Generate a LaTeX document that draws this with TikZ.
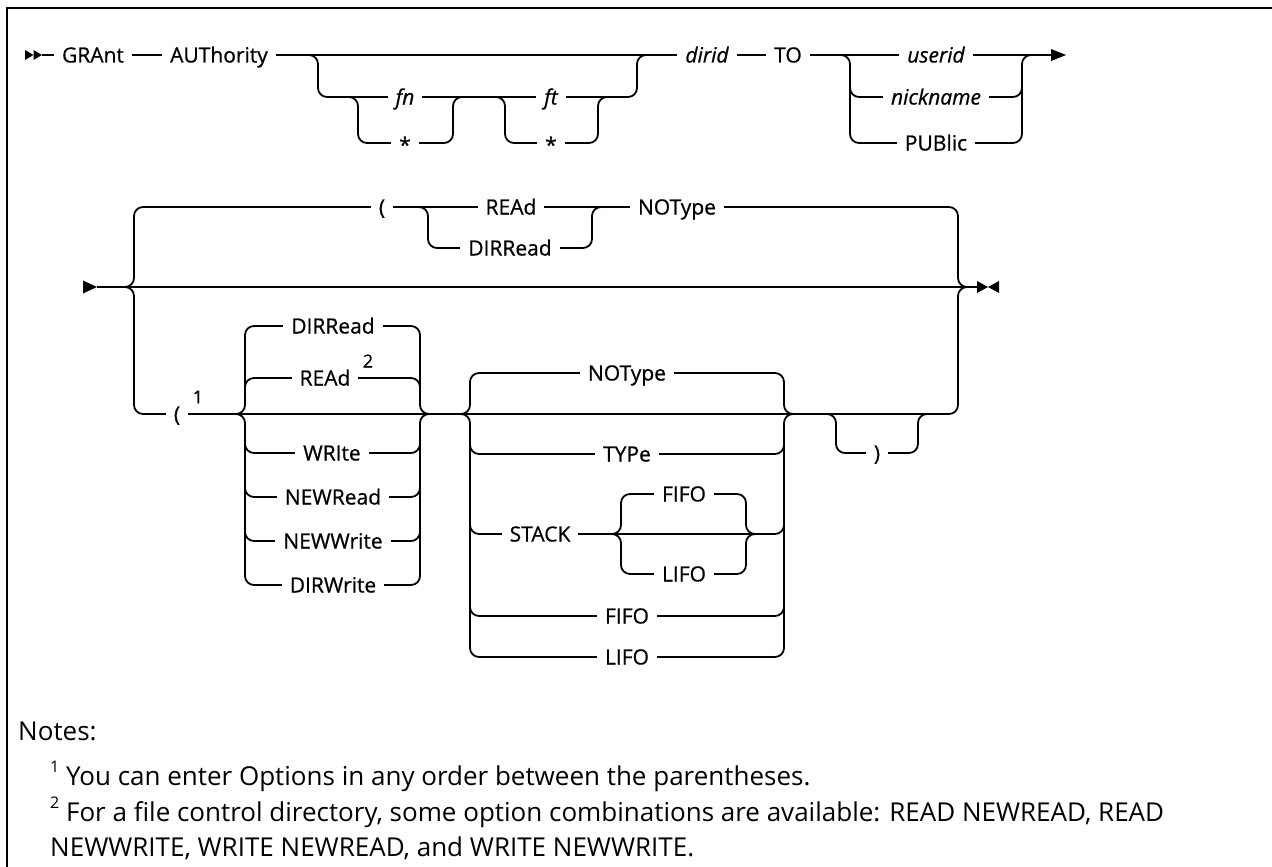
\documentclass[tikz,border=0pt]{standalone}
\usepackage{fontspec}
\setmainfont{Open Sans}
\newfontfamily\diagfont[FakeBold=0.7]{Open Sans}
\begin{document}
\begin{tikzpicture}[x=1pt,y=-1pt,
  track/.style={line width=1.8pt, rounded corners=9pt},
  lbl/.style={fill=white, inner xsep=8pt, inner ysep=1pt, text height=15pt, text depth=0pt, font=\fontsize{21}{24}\diagfont},
  ilbl/.style={lbl, font=\fontsize{21}{24}\diagfont\itshape},
  suplbl/.style={inner sep=0pt, font=\fontsize{18}{18}\diagfont},
  note/.style={inner sep=0pt, anchor=base west, font=\fontsize{26}{30}\selectfont},
  tipmark/.style={fill=black}
]
\useasboundingbox (0,0) rectangle (1272,867);
\draw[line width=2.2pt] (7,867) -- (7,8) -- (1272,8);

% ---------------- row 1 ----------------
\coordinate (r1s) at (42,55);
\coordinate (r1e) at (1052,55);
\fill[tipmark] (25,50) -- (33.5,55) -- (25,60) -- cycle;
\fill[tipmark] (33.5,50) -- (42,55) -- (33.5,60) -- cycle;
\draw[track] (r1s) -- (r1e);
\fill[tipmark] (1051,49) -- (1066,55) -- (1051,61) -- cycle;
% fn ft branch
\draw[track] (308,55) -- (318,55) -- (318,97) -- (637,97) -- (637,55) -- (647,55);
\draw[track] (348,97) -- (358,97) -- (358,143) -- (453,143) -- (453,97) -- (463,97);
\draw[track] (495,97) -- (505,97) -- (505,143) -- (598,143) -- (598,97) -- (608,97);
% userid branch
\draw[track] (840,55) -- (850,55) -- (850,97) -- (1022,97) -- (1022,55) -- (1032,55);
\draw[track] (850,88) -- (850,143) -- (1022,143) -- (1022,88);

\node[lbl] (grant) at (93,55) {GRAnt};
\node[lbl] (auth) at (219,55) {AUThority};
\node[ilbl] (fn) at (405,97) {fn};
\node[lbl] (fnstar) at (405,145) {*};
\node[ilbl] (ft) at (551,97) {ft};
\node[lbl] (ftstar) at (551,145) {*};
\node[ilbl] (dirid) at (707,55) {dirid};
\node[lbl] (to) at (788,55) {TO};
\node[ilbl] (userid) at (936,55) {userid};
\node[ilbl] (nick) at (936,97) {nickname};
\node[lbl] (public) at (936,143) {PUBlic};

% ---------------- row 2 ----------------
\fill[tipmark] (83,280.5) -- (97,287) -- (83,293.5) -- cycle;
\coordinate (r2s) at (97,287);
\coordinate (r2e) at (977,287);
\draw[track] (r2s) -- (r2e);
\fill[tipmark] (977,281) -- (988,287) -- (977,293) -- cycle;
\fill[tipmark] (999,281) -- (988,287) -- (999,293) -- cycle;
% top alternative
\draw[track] (124,287) -- (134,287) -- (134,207) -- (958,207) -- (958,287) -- (968,287);
\draw[track] (418,207) -- (428,207) -- (428,248) -- (592,248) -- (592,207) -- (602,207);
% bottom alternative
\draw[track] (124,287) -- (134,287) -- (134,414) -- (958,414) -- (958,287) -- (968,287);
% group 1
\draw[track] (235,414) -- (245,414) -- (245,326) -- (420,326) -- (420,414) -- (430,414);
\draw[track] (245,392) -- (245,378) -- (420,378) -- (420,392);
\draw[track] (235,414) -- (245,414) -- (245,585) -- (420,585) -- (420,414) -- (430,414);
\foreach \yy in {453,497,541} {\draw[track] (245,\yy-16) -- (245,\yy) -- (420,\yy) -- (420,\yy-16);}
% group 2
\draw[track] (460,414) -- (470,414) -- (470,373) -- (784,373) -- (784,414) -- (794,414);
\draw[track] (460,414) -- (470,414) -- (470,657) -- (784,657) -- (784,414) -- (794,414);
\foreach \yy in {454,534,616} {\draw[track] (470,\yy-16) -- (470,\yy) -- (784,\yy) -- (784,\yy-16);}
% stack sub-group
\draw[track] (611,534) -- (621,534) -- (621,494) -- (746,494) -- (746,534) -- (756,534);
\draw[track] (611,534) -- (621,534) -- (621,574) -- (746,574) -- (746,534) -- (756,534);
% paren group
\draw[track] (826,414) -- (836,414) -- (836,453) -- (918,453) -- (918,414) -- (928,414);

\node[lbl] (lp1) at (382,207) {(};
\node[lbl] (read1) at (511,207) {REAd};
\node[lbl] (dirread1) at (510,248) {DIRRead};
\node[lbl] (notype1) at (677,207) {NOType};

\node[lbl] (lp2) at (177,414) {(};
\node[suplbl] (sup1) at (198,397) {1};
\node[lbl] (dirread2) at (333,326) {DIRRead};
\node[lbl] (read2) at (325,378) {REAd};
\node[suplbl] (sup2) at (368,361) {2};
\node[lbl] (write) at (332,453) {WRIte};
\node[lbl] (newread) at (333,497) {NEWRead};
\node[lbl] (newwrite) at (333,541) {NEWWrite};
\node[lbl] (dirwrite) at (333,585) {DIRWrite};

\node[lbl] (notype2) at (627,373) {NOType};
\node[lbl] (type) at (627,454) {TYPe};
\node[lbl] (stack) at (540,534) {STACK};
\node[lbl] (fifo1) at (684,494) {FIFO};
\node[lbl] (lifo1) at (684,574) {LIFO};
\node[lbl] (fifo2) at (627,616) {FIFO};
\node[lbl] (lifo2) at (627,657) {LIFO};
\node[lbl] (rp) at (877,453) {)};

% ---------------- notes ----------------
\node[note] (notes) at (18,740) {Notes:};
\node[note] (note1) at (50,785) {\raisebox{0.5em}{\fontsize{16}{16}\selectfont 1} You can enter Options in any order between the parentheses.};
\node[note] (note2a) at (50,821) {\raisebox{0.5em}{\fontsize{16}{16}\selectfont 2} For a file control directory, some option combinations are available: READ NEWREAD, READ};
\node[note] (note2b) at (50,856) {NEWWRITE, WRITE NEWREAD, and WRITE NEWWRITE.};
\end{tikzpicture}
\end{document}
